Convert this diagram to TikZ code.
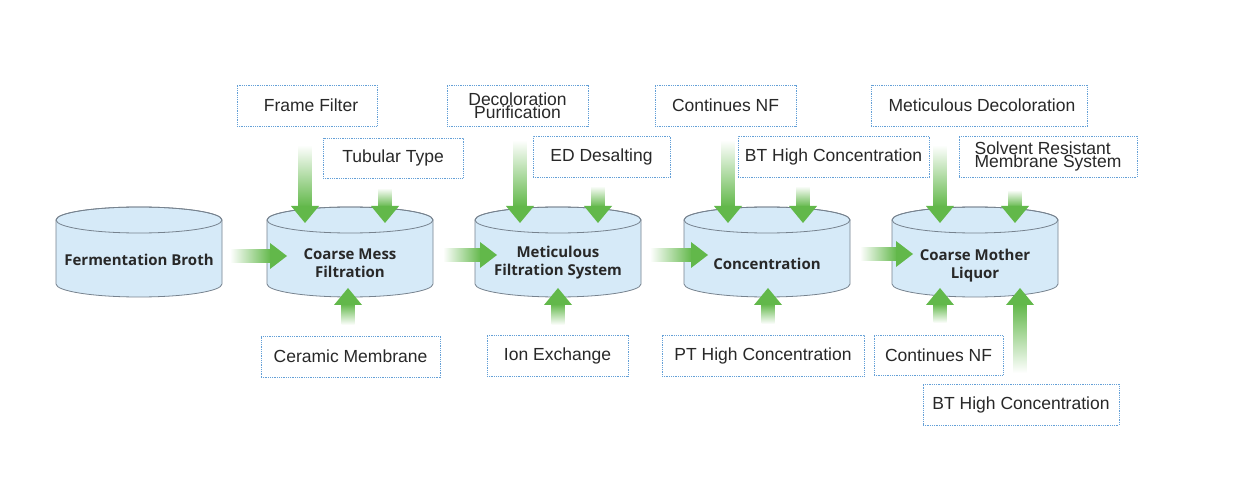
\documentclass[tikz,border=0pt]{standalone}
\usepackage{fontspec}
\setmainfont{Liberation Sans}
\newfontfamily\tankfont{Open Sans}
\definecolor{tankfill}{RGB}{214,234,248}
\definecolor{tankline}{RGB}{118,130,142}
\definecolor{boxline}{RGB}{100,160,215}
\definecolor{agreen}{RGB}{98,184,74}
\definecolor{txt}{RGB}{40,40,40}
\tikzset{
  labelbox/.style={draw=boxline, line width=0.9pt, dash pattern=on 0.9pt off 0.9pt, fill=white, inner sep=0pt, font=\fontsize{17.5}{13}\selectfont, text=txt, align=center},
  tanktext/.style={font=\tankfont\bfseries\fontsize{15}{18}\selectfont, text=txt, align=center},
  tankbody/.style={draw=tankline, line width=0.8pt, fill=tankfill},
}
\newcommand\tank[4]{%
  \path[tankbody] (#2-83,-220) -- (#2-83,-284) arc[start angle=180,end angle=360,x radius=83,y radius=13] -- (#2+83,-220) arc[start angle=0,end angle=180,x radius=83,y radius=13] -- cycle;
  \draw[tankline, line width=0.8pt] (#2,-220) ellipse [x radius=83, y radius=13];
  \node[tanktext] (#1) at (#2,-#3) {#4};}
\newcommand\downarr[3]{%
  \shade[top color=white, bottom color=agreen] (#1-6.5,-#2) rectangle (#1+6.5,-#3+16);
  \fill[agreen] (#1-14,-#3+17) -- (#1+14,-#3+17) -- (#1,-#3) -- cycle;}
\newcommand\uparr[3]{%
  \shade[bottom color=white, top color=agreen] (#1-6.5,-#2) rectangle (#1+6.5,-#3-16);
  \fill[agreen] (#1-14,-#3-17) -- (#1+14,-#3-17) -- (#1,-#3) -- cycle;}
\newcommand\rightarr[3]{%
  \shade[left color=white, right color=agreen] (#1,-#3-6.5) rectangle (#2-16,-#3+6.5);
  \fill[agreen] (#2-17,-#3-13) -- (#2-17,-#3+13) -- (#2,-#3) -- cycle;}
\begin{document}
\begin{tikzpicture}[x=1pt,y=1pt]
\useasboundingbox (0,0) rectangle (1260,-502);
\fill[white] (0,0) rectangle (1260,-502);
% tanks
\tank{broth}{139}{260}{Fermentation Broth}
\tank{coarse}{350}{263}{Coarse Mess\\Filtration}
\tank{metic}{558}{263}{Meticulous\\Filtration System}
\tank{conc}{767}{264}{Concentration}
\tank{mother}{975}{266}{Coarse Mother\\Liquor}
% boxes
\node[labelbox, minimum width=140pt, minimum height=41pt] (ff) at (307,-105.5) {\hspace*{8pt}Frame Filter};
\node[labelbox, minimum width=140pt, minimum height=40pt] (tt) at (393,-158) {Tubular Type};
\node[labelbox, minimum width=141pt, minimum height=41pt] (dp) at (517.5,-105.5) {Decoloration\\Purification};
\node[labelbox, minimum width=137pt, minimum height=41pt] (ed) at (601.5,-156.5) {ED Desalting};
\node[labelbox, minimum width=141pt, minimum height=41pt] (cnf) at (725.5,-105.5) {Continues NF};
\node[labelbox, minimum width=191pt, minimum height=41pt] (bta) at (833.5,-156.5) {BT High Concentration};
\node[labelbox, minimum width=216pt, minimum height=41pt] (md) at (979,-105.5) {\hspace*{6pt}Meticulous Decoloration};
\node[labelbox, minimum width=178pt, minimum height=41pt, align=left] (sr) at (1048,-156.5) {Solvent Resistant\\Membrane System};
\node[labelbox, minimum width=179pt, minimum height=41pt] (cm) at (350.5,-356.5) {Ceramic Membrane};
\node[labelbox, minimum width=141pt, minimum height=41pt] (ie) at (557.5,-355.5) {Ion Exchange};
\node[labelbox, minimum width=202pt, minimum height=41pt] (pt) at (763,-355.5) {PT High Concentration};
\node[labelbox, minimum width=129pt, minimum height=40pt] (cnfb) at (938.5,-355) {Continues NF};
\node[labelbox, minimum width=196pt, minimum height=41pt] (btb) at (1021,-404.5) {BT High Concentration};
% horizontal arrows
\rightarr{230}{287}{256}
\rightarr{443}{497}{255}
\rightarr{650}{708}{255}
\rightarr{860}{913}{254}
% down arrows
\downarr{305}{145}{223}
\downarr{385}{188}{223}
\downarr{520}{140}{223}
\downarr{598}{186}{223}
\downarr{728}{140}{223}
\downarr{803}{186}{223}
\downarr{940}{145}{223}
\downarr{1015}{190}{223}
% up arrows
\uparr{348}{325}{288}
\uparr{558}{325}{288}
\uparr{768}{324}{288}
\uparr{940}{323}{288}
\uparr{1020}{373}{288}
\end{tikzpicture}
\end{document}
